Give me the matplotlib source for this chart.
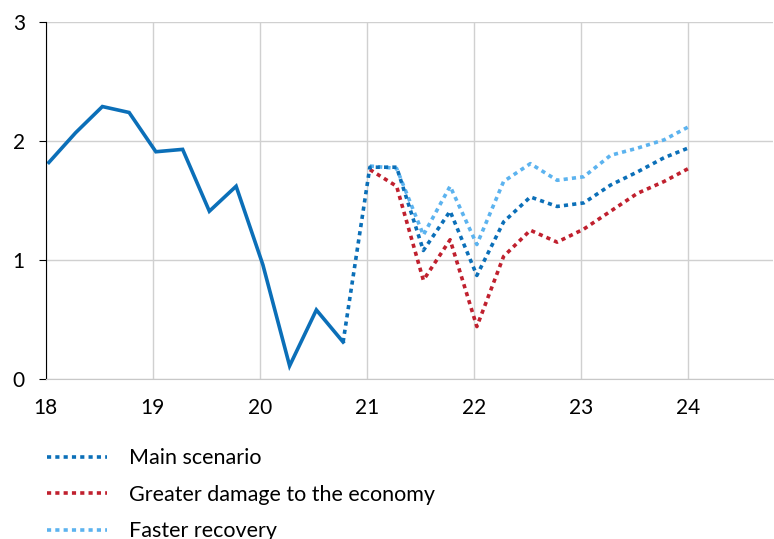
import numpy as np
import matplotlib.pyplot as plt

plt.rcParams['font.family'] = ['Lato', 'DejaVu Sans']

# quarterly positions, first quarter of 2018 onwards
start = 18.03
step = 0.25

history = [1.82, 2.07, 2.29, 2.24, 1.91, 1.93, 1.41, 1.62, 0.96, 0.11, 0.58, 0.31]
main = [0.31, 1.78, 1.78, 1.08, 1.41, 0.87, 1.32, 1.53, 1.45, 1.48, 1.63, 1.74, 1.86, 1.95]
damage = [1.76, 1.62, 0.83, 1.17, 0.44, 1.03, 1.25, 1.15, 1.26, 1.41, 1.56, 1.66, 1.78]
faster = [1.79, 1.77, 1.21, 1.62, 1.13, 1.66, 1.81, 1.67, 1.70, 1.88, 1.94, 2.01, 2.13]
labels = ['Main scenario', 'Greater damage to the economy', 'Faster recovery']

x_hist = start + step * np.arange(len(history))
x_main = start + step * np.arange(11, 11 + len(main))
x_scen = start + step * np.arange(12, 12 + len(damage))

c_main = '#0b6fb8'
c_red = '#c0202e'
c_light = '#5cb3ef'

fig = plt.figure(figsize=(7.74, 5.39), dpi=100)
ax = fig.add_axes([0.059, 0.297, 0.94, 0.662])

dots = (0, (1.15, 1.15))
ax.plot(x_scen, faster, color=c_light, lw=2.6, ls=dots, label=labels[2])
ax.plot(x_scen, damage, color=c_red, lw=2.6, ls=dots, label=labels[1])
ax.plot(x_main, main, color=c_main, lw=2.6, ls=dots, label=labels[0])
ax.plot(x_hist, history, color=c_main, lw=2.6, solid_joinstyle='miter')

ax.set_xlim(18, 24.8)
ax.set_ylim(0, 3)
ax.set_xticks(range(18, 25))
ax.set_yticks([0, 1, 2, 3])
ax.grid(True, color='#d0d0d0', lw=1)
ax.set_axisbelow(True)
for s in ['top', 'right']:
    ax.spines[s].set_visible(False)
ax.spines['bottom'].set_color('#c8c8c8')
ax.spines['left'].set_color('black')
ax.tick_params(axis='x', length=0, labelsize=15, pad=14)
ax.tick_params(axis='y', length=5, direction='out', labelsize=15, pad=10)

h, l = ax.get_legend_handles_labels()
order = [2, 1, 0]
fig.legend([h[i] for i in order], [l[i] for i in order], loc='upper left',
           bbox_to_anchor=(0.061, 0.168), frameon=False, fontsize=15.5,
           handlelength=2.8, handletextpad=1.0, labelspacing=0.76,
           borderaxespad=0, borderpad=0)

fig.savefig('out.png', dpi=100)
